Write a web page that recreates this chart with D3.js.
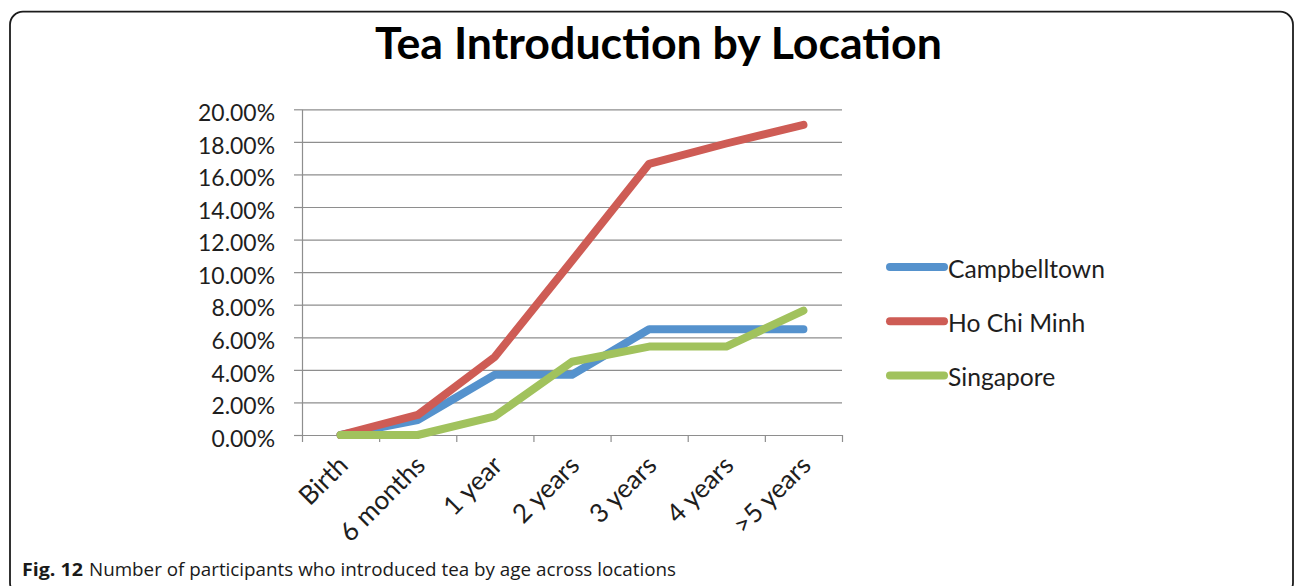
<!DOCTYPE html>
<html>
<head>
<meta charset="utf-8">
<script src="https://cdn.jsdelivr.net/npm/d3@7"></script>
<style>
  body { margin: 0; background: #fff; }
  svg { display: block; }
</style>
</head>
<body>
<svg id="chart" width="1295" height="586"></svg>
<script>
// ---- data ----
const categories = ["Birth", "6 months", "1 year", "2 years", "3 years", "4 years", ">5 years"];
const seriesNames = ["Campbelltown", "Ho Chi Minh", "Singapore"];
const campbelltown = [0, 0.0092, 0.037, 0.037, 0.0649, 0.0649, 0.0649];
const hoChiMinh = [0, 0.0123, 0.048, 0.107, 0.1665, 0.179, 0.1905];
const singapore = [0, 0, 0.0115, 0.045, 0.0543, 0.0543, 0.0764];
const yTickValues = [0, 0.02, 0.04, 0.06, 0.08, 0.10, 0.12, 0.14, 0.16, 0.18, 0.20];
const titleText = "Tea Introduction by Location";
const captionLabel = "Fig. 12";
const captionText = "Number of participants who introduced tea by age across locations";

const seriesValues = [campbelltown, hoChiMinh, singapore];
const seriesColors = ["#5592CD", "#CE5C55", "#A1C25D"];

const FONT = "Lato, 'Open Sans', sans-serif";
const svg = d3.select("#chart");

// scale a text element's font size so that it spans the given width
function fitFont(sel, targetWidth) {
  const base = +sel.attr("font-size");
  const w = sel.node().getComputedTextLength();
  const fs = base * targetWidth / w;
  sel.attr("font-size", fs);
  return fs;
}

// ---- rounded frame ----
svg.append("rect")
  .attr("x", 10).attr("y", 11.7)
  .attr("width", 1283).attr("height", 584)
  .attr("rx", 13).attr("ry", 13)
  .attr("fill", "none")
  .attr("stroke", "#1c1c1c")
  .attr("stroke-width", 1.8);

// ---- title ----
const title = svg.append("text")
  .attr("x", 658.5).attr("y", 59)
  .attr("text-anchor", "middle")
  .attr("font-family", FONT)
  .attr("font-weight", "bold")
  .attr("font-size", 40)
  .attr("fill", "#000")
  .text(titleText);
fitFont(title, 567);

// ---- scales ----
const plot = { left: 302, right: 842, top: 109.3, bottom: 435 };
const x = d3.scaleBand().domain(categories).range([plot.left, plot.right]);
const xEdges = d3.scaleLinear().domain([0, categories.length]).range([plot.left, plot.right]);
const y = d3.scaleLinear().domain([0, 0.2]).range([plot.bottom, plot.top]);
const cx = c => x(c) + x.bandwidth() / 2;

const axisColor = "#8e8e8e";

// horizontal gridlines
const grid = svg.append("g")
  .attr("transform", `translate(${plot.left},0)`)
  .call(d3.axisLeft(y).tickValues(yTickValues).tickSize(-(plot.right - plot.left)).tickFormat(""));
grid.select(".domain").remove();
grid.selectAll(".tick line").attr("stroke", axisColor).attr("stroke-width", 1.2);

// y axis line with short outer ticks
const yAxis = svg.append("g")
  .attr("transform", `translate(${plot.left},0)`)
  .call(d3.axisLeft(y).tickValues(yTickValues).tickSize(8).tickSizeOuter(0).tickFormat(""));
yAxis.select(".domain").attr("stroke", axisColor).attr("stroke-width", 1.2);
yAxis.selectAll(".tick line").attr("stroke", axisColor).attr("stroke-width", 1.2);

// x axis with ticks at category boundaries
const xAxis = svg.append("g")
  .attr("transform", `translate(0,${plot.bottom})`)
  .call(d3.axisBottom(xEdges).tickValues(d3.range(categories.length + 1)).tickSize(7).tickSizeOuter(0).tickFormat(""));
xAxis.select(".domain").attr("stroke", axisColor).attr("stroke-width", 1.2);
xAxis.selectAll(".tick line").attr("stroke", axisColor).attr("stroke-width", 1.2);

// y tick labels
const probe = svg.append("text").attr("font-family", FONT).attr("font-size", 24).text("20.00%");
const labelSize = fitFont(probe, 77);
probe.remove();
const fmt = d3.format(".2%");
svg.append("g").selectAll("text")
  .data(yTickValues)
  .join("text")
  .attr("x", 275)
  .attr("y", d => y(d) + 3.5 + 0.36 * labelSize)
  .attr("text-anchor", "end")
  .attr("font-family", FONT)
  .attr("font-size", labelSize)
  .attr("fill", "#1e1e1e")
  .text(d => fmt(d));

// legend text size, fitted to the first entry
const probe2 = svg.append("text").attr("font-family", FONT).attr("font-size", 26).text(seriesNames[0]);
const legendSize = fitFont(probe2, 157);
probe2.remove();

// x tick labels, rotated
svg.append("g").selectAll("text")
  .data(categories)
  .join("text")
  .attr("transform", d => `translate(${cx(d) + 9},${plot.bottom + 32}) rotate(-45)`)
  .attr("text-anchor", "end")
  .attr("font-family", FONT)
  .attr("font-size", legendSize * 1.06)
  .attr("fill", "#1e1e1e")
  .text(d => d);

// ---- series lines ----
const line = d3.line()
  .x((d, i) => cx(categories[i]))
  .y(d => y(d));

svg.append("g").selectAll("path")
  .data(seriesValues)
  .join("path")
  .attr("d", d => line(d))
  .attr("fill", "none")
  .attr("stroke", (d, i) => seriesColors[i])
  .attr("stroke-width", 8)
  .attr("stroke-linecap", "round")
  .attr("stroke-linejoin", "round");

// ---- legend ----
const legendRows = svg.append("g").selectAll("g")
  .data(seriesNames)
  .join("g")
  .attr("transform", (d, i) => `translate(0,${267 + i * 54.2})`);
legendRows.append("line")
  .attr("x1", 890).attr("x2", 944)
  .attr("y1", 0).attr("y2", 0)
  .attr("stroke", (d, i) => seriesColors[i])
  .attr("stroke-width", 8)
  .attr("stroke-linecap", "round");
legendRows.append("text")
  .attr("x", 948).attr("y", 10.5)
  .attr("font-family", FONT)
  .attr("font-size", legendSize)
  .attr("fill", "#1e1e1e")
  .text(d => d);

// ---- caption ----
const CAPFONT = "'Open Sans', 'Noto Sans', sans-serif";
svg.append("text")
  .attr("x", 22).attr("y", 576)
  .attr("font-family", CAPFONT)
  .attr("font-weight", "bold")
  .attr("font-size", 18)
  .attr("fill", "#1a1a1a")
  .attr("textLength", 61)
  .attr("lengthAdjust", "spacingAndGlyphs")
  .text(captionLabel);
svg.append("text")
  .attr("x", 89).attr("y", 576)
  .attr("font-family", CAPFONT)
  .attr("font-size", 18)
  .attr("fill", "#1a1a1a")
  .attr("textLength", 587)
  .attr("lengthAdjust", "spacingAndGlyphs")
  .text(captionText);
</script>
</body>
</html>
